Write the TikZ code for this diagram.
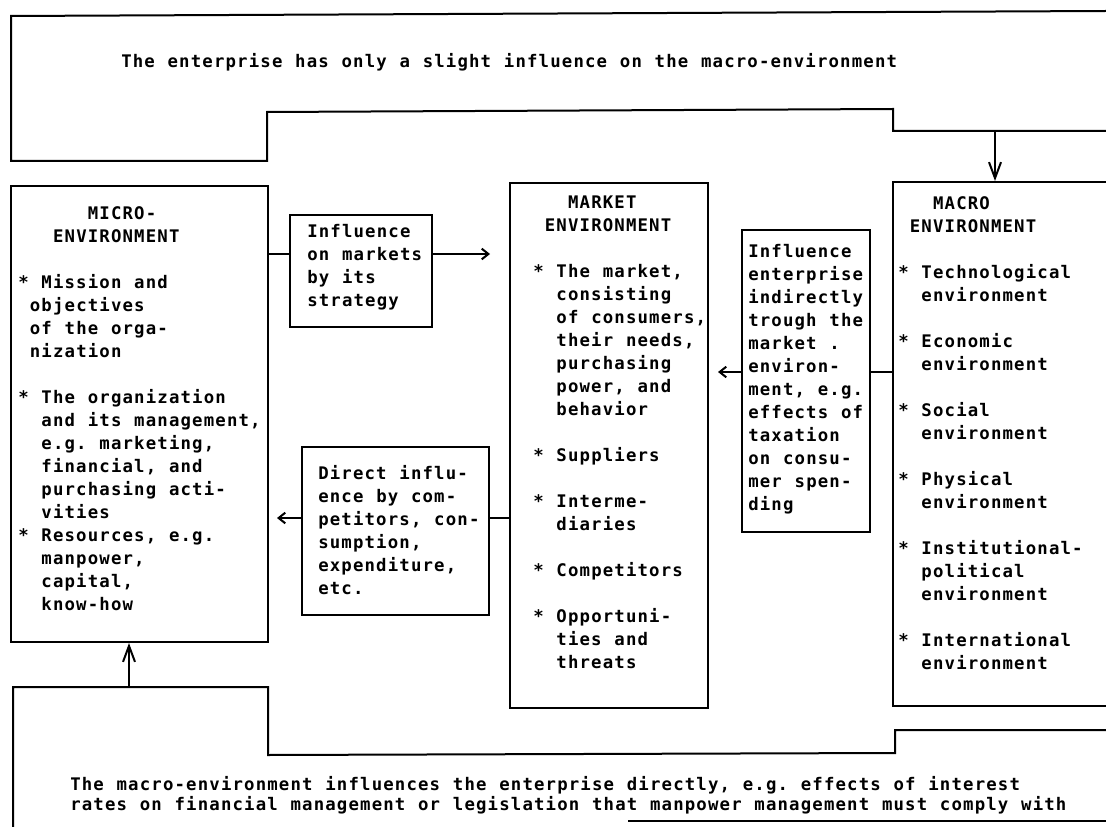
\documentclass[tikz,border=0pt]{standalone}
\usepackage{fontspec}
\setmonofont{DejaVu Sans Mono}[LetterSpace=6.7]
\usetikzlibrary{arrows.meta,fit}

% one character cell of the typewriter face (glyph advance plus tracking)
\newlength\cwd
\setlength\cwd{8.7pt}
% tracking is only added between letters, so a word space carries it twice
\newlength\wsp
\setlength\wsp{9.57pt}
\newcommand\ind[1]{\hspace*{#1\cwd}}
\newcommand\mytext{\ttfamily\bfseries\fontsize{13}{17.25}\selectfont\spaceskip=\wsp\xspaceskip=\wsp}
\newcommand\mytextb{\ttfamily\bfseries\fontsize{13}{15}\selectfont\spaceskip=\wsp\xspaceskip=\wsp}
\newcommand\bl{\\[17.25pt]}

\tikzset{
  outline/.style={line width=1.5pt, line join=miter},
  box/.style={draw, line width=1.5pt, inner sep=0pt, fit={#1}},
  txt/.style={anchor=north west, inner sep=0pt, align=left, font=\mytext},
  link/.style={line width=1.5pt},
  harr/.style={line width=1.5pt, -{Straight Barb[length=5pt,width=8pt]}},
  varr/.style={line width=1.5pt, -{Straight Barb[length=12pt,width=9pt]}}
}

\begin{document}
\begin{tikzpicture}[x=0.75pt, y=-0.75pt]
\useasboundingbox (0,0) rectangle (1106,827);

% upper band: influence of the enterprise on the macro-environment
\draw[outline] (1106,11) -- (11,16) -- (11,161) -- (267,161) -- (267,112)
  -- (893,109) -- (893,131) -- (1106,131);
\node[txt] (toptext) at (121,53)
  {The enterprise has only a slight influence on the macro-environment};

% lower band: direct influence of the macro-environment
\draw[outline] (13,827) -- (13,687) -- (268,687) -- (268,755) -- (895,753)
  -- (895,730) -- (1106,730);
\draw[outline] (628,821) -- (1106,821);
\node[txt, font=\mytextb] (bottext) at (70,776)
  {The macro-environment influences the enterprise directly, e.g. effects of interest\\
   rates on financial management or legislation that manpower management must comply with};

% the three environments
\node[box={(11,186) (268,642)}] (micro) {};
\node[txt] (microtxt) at (18,206) {%
  \ind{6}MICRO-\\
  \ind{3}ENVIRONMENT\bl
  * Mission and\\
  \ind{1}objectives\\
  \ind{1}of the orga-\\
  \ind{1}nization\bl
  * The organization\\
  \ind{2}and its management,\\
  \ind{2}e.g. marketing,\\
  \ind{2}financial, and\\
  \ind{2}purchasing acti-\\
  \ind{2}vities\\
  * Resources, e.g.\\
  \ind{2}manpower,\\
  \ind{2}capital,\\
  \ind{2}know-how};

\node[box={(510,183) (708,708)}] (market) {};
\node[txt] (markettxt) at (533,196) {%
  \ind{3}MARKET\\
  \ind{1}ENVIRONMENT\bl
  * The market,\\
  \ind{2}consisting\\
  \ind{2}of consumers,\\
  \ind{2}their needs,\\
  \ind{2}purchasing\\
  \ind{2}power, and\\
  \ind{2}behavior\bl
  * Suppliers\bl
  * Interme-\\
  \ind{2}diaries\bl
  * Competitors\bl
  * Opportuni-\\
  \ind{2}ties and\\
  \ind{2}threats};

\node[box={(893,182) (1115,706)}] (macro) {};
\node[txt] (macrotxt) at (898,196) {%
  \ind{3}MACRO\\
  \ind{1}ENVIRONMENT\bl
  * Technological\\
  \ind{2}environment\bl
  * Economic\\
  \ind{2}environment\bl
  * Social\\
  \ind{2}environment\bl
  * Physical\\
  \ind{2}environment\bl
  * Institutional-\\
  \ind{2}political\\
  \ind{2}environment\bl
  * International\\
  \ind{2}environment};

% influence boxes between the environments
\node[box={(290,215) (432,327)}] (strat) {};
\node[txt] (strattxt) at (307,224)
  {Influence\\on markets\\by its\\strategy};

\node[box={(302,447) (489,615)}] (direct) {};
\node[txt] (directtxt) at (318,465)
  {Direct influ-\\ence by com-\\petitors, con-\\sumption,\\expenditure,\\etc.};

\node[box={(742,230) (870,532)}] (indirect) {};
\node[txt] (indirecttxt) at (748,244)
  {Influence\\enterprise\\indirectly\\trough the\\market .\\environ-\\ment, e.g.\\effects of\\taxation\\on consu-\\mer spen-\\ding};

% connector levels and free arrow ends
\coordinate (yS) at (0,254);
\coordinate (yD) at (0,518);
\coordinate (yI) at (0,372);
\coordinate (endS) at (490,254);
\coordinate (endD) at (277,518);
\coordinate (endI) at (718,372);
\coordinate (topsrc) at (995,131);
\coordinate (botsrc) at (129,687);

\draw[link] (micro.east |- yS) -- (strat.west |- yS);
\draw[harr] (strat.east |- yS) -- (endS);

\draw[link] (market.west |- yD) -- (direct.east |- yD);
\draw[harr] (direct.west |- yD) -- (endD);

\draw[link] (macro.west |- yI) -- (indirect.east |- yI);
\draw[harr] (indirect.west |- yI) -- (endI);

\draw[varr] (topsrc) -- (macro.north -| topsrc);
\draw[varr] (botsrc) -- (micro.south -| botsrc);
\end{tikzpicture}
\end{document}
